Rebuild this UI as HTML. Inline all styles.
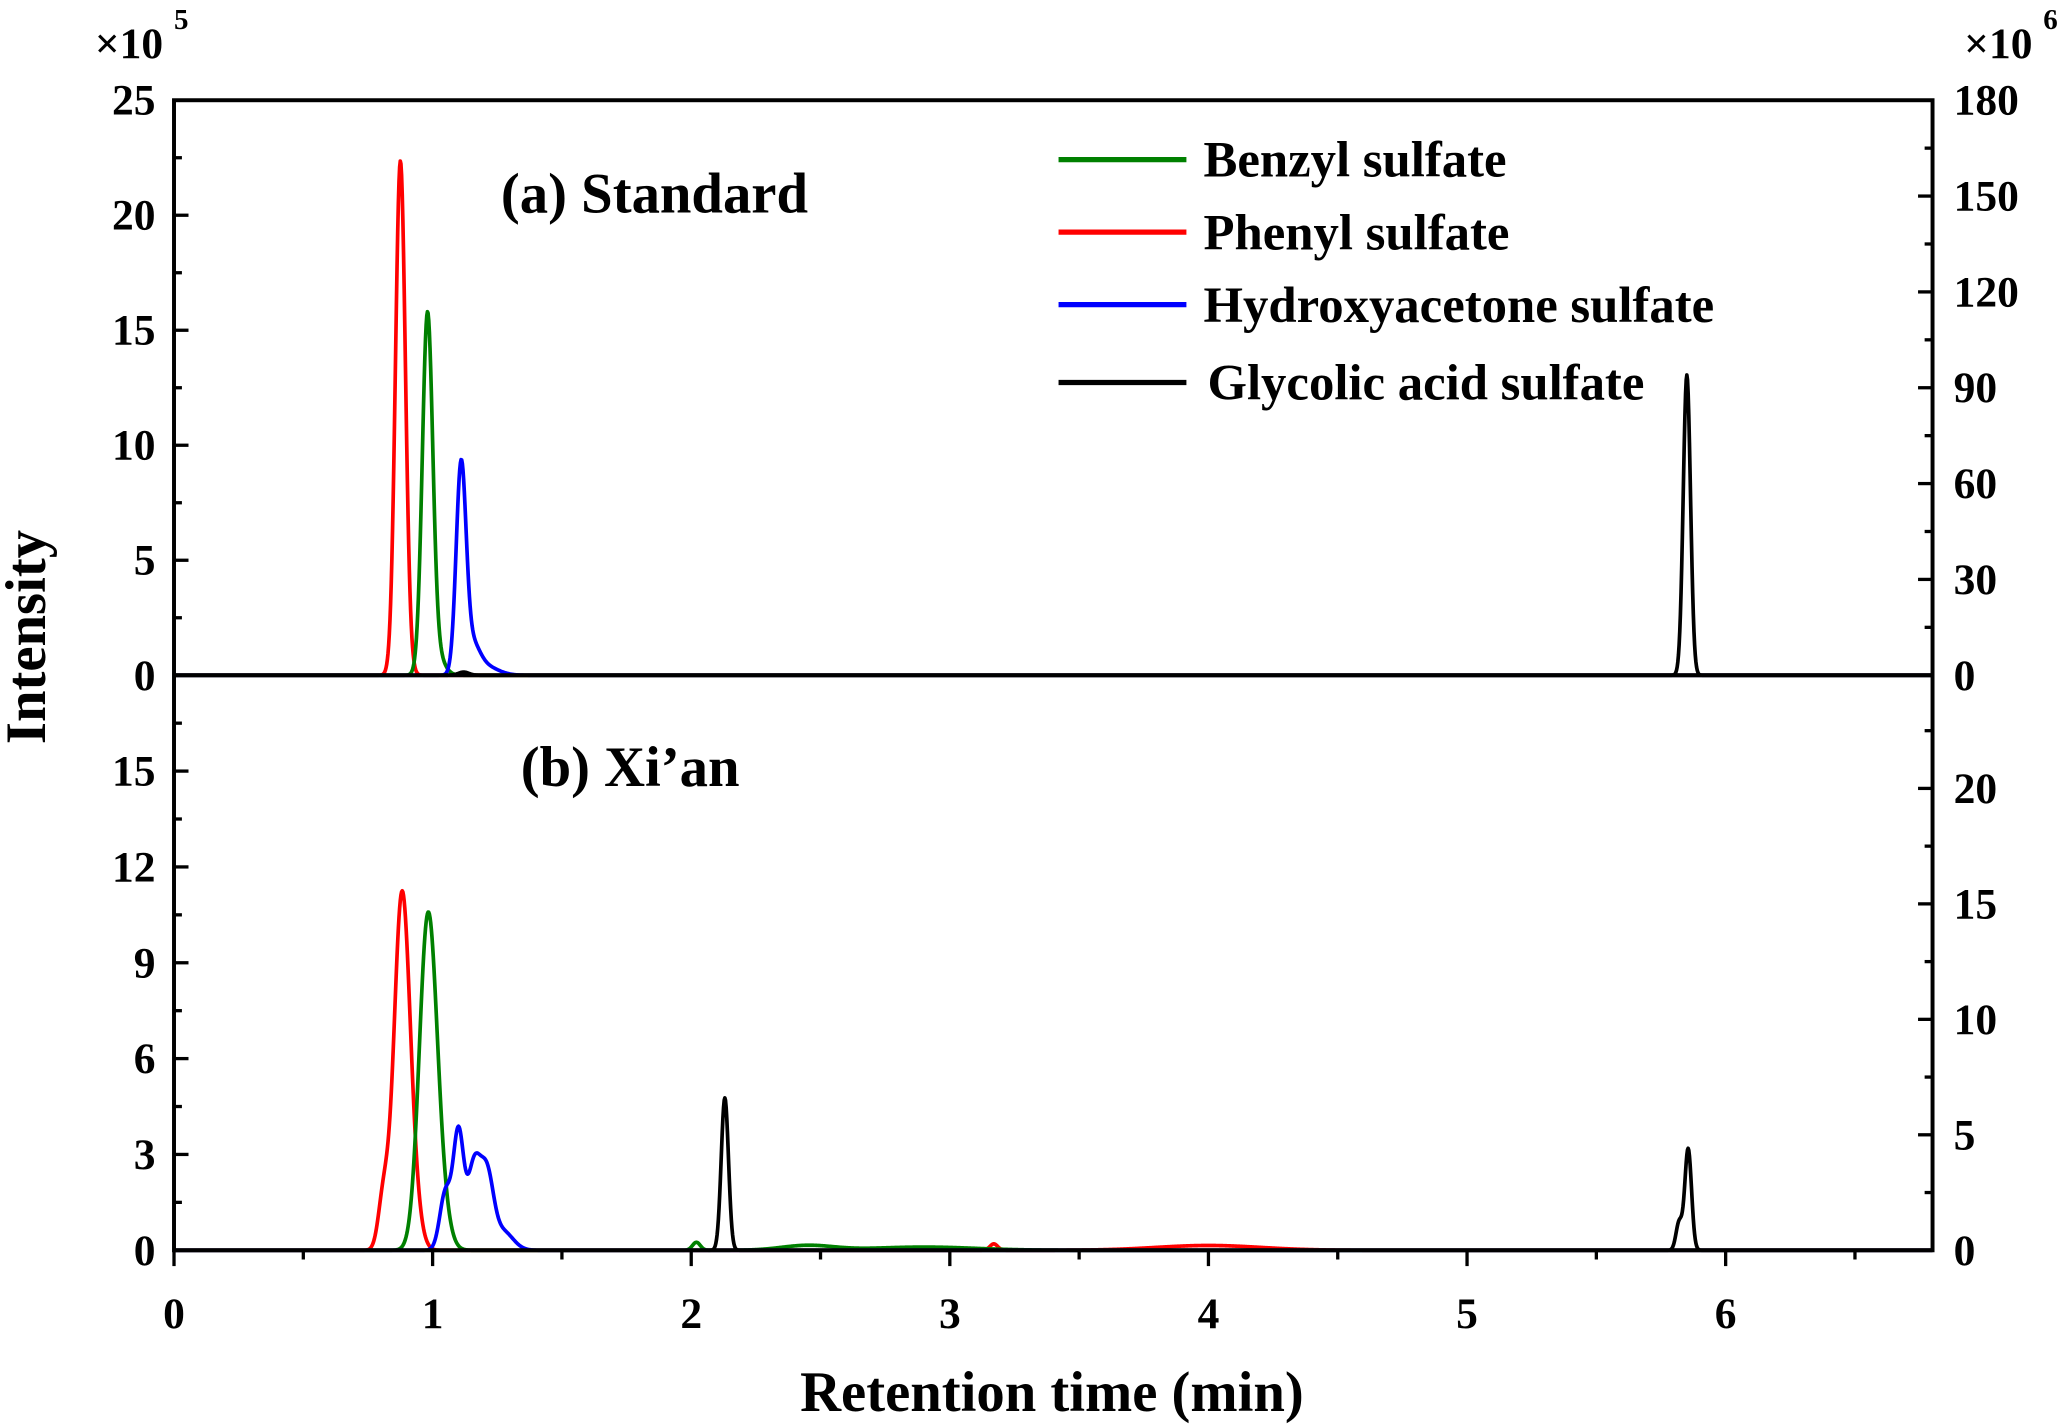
<!DOCTYPE html>
<html><head><meta charset="utf-8">
<style>html,body{margin:0;padding:0;background:#fff}svg{display:block}
text{font-family:"Liberation Serif",serif;font-weight:bold;fill:#000}</style></head>
<body>
<svg id="chart" width="2067" height="1427" viewBox="0 0 1568 1082" preserveAspectRatio="none" xmlns="http://www.w3.org/2000/svg">
<g id="g"></g>
</svg>
<script>
// ---- data (peaks: retention time, height, width sigma) ----
const xTicks = [0,1,2,3,4,5,6];
const topLeftTicks = [0,5,10,15,20,25];
const topRightTicks = [0,30,60,90,120,150,180];
const botLeftTicks = [0,3,6,9,12,15];
const botRightTicks = [0,5,10,15,20];
const legendNames = ["Benzyl sulfate","Phenyl sulfate","Hydroxyacetone sulfate","Glycolic acid sulfate"];
const legendColors = ["#008000","#ff0000","#0000ff","#000000"];
// top panel (a) Standard: left axis x1e5, black on right axis x1e6
const topBenzylRT=[0.98,1.01], topBenzylH=[15.2,1.0], topBenzylW=[0.02,0.03];
const topPhenylRT=[0.875,0.89], topPhenylH=[21.6,1.0], topPhenylW=[0.019,0.02];
const topHydroxyRT=[1.11,1.15,1.2], topHydroxyH=[8.8,1.2,0.4], topHydroxyW=[0.019,0.03,0.05];
const topGlycolicRT=[5.85,1.12], topGlycolicH=[94,1.0], topGlycolicW=[0.014,0.02];
// bottom panel (b) Xi'an
const botBenzylRT=[0.98,1.02,2.02,2.45,2.9], botBenzylH=[9.6,1.8,0.25,0.15,0.1], botBenzylW=[0.033,0.035,0.015,0.1,0.2];
const botPhenylRT=[0.81,0.88,0.92,3.17,4.0], botPhenylH=[1.6,10.6,1.5,0.2,0.15], botPhenylW=[0.02,0.03,0.03,0.015,0.2];
const botHydroxyRT=[1.05,1.1,1.16,1.21,1.27], botHydroxyH=[1.8,3.6,2.6,2.2,0.6], botHydroxyW=[0.022,0.02,0.025,0.025,0.04];
const botGlycolicRT=[2.13,5.82,5.855], botGlycolicH=[6.6,1.2,4.4], botGlycolicW=[0.014,0.012,0.013];

const NS="http://www.w3.org/2000/svg", g=document.getElementById('g');
const X0=132,X1=1466,Y0=76,YM=512,Y1=948;
const xs=v=>X0+(v/6.8)*(X1-X0);
const yTL=v=>YM-v*(YM-Y0)/25, yTR=v=>YM-v*(YM-Y0)/180;
const yBL=v=>Y1-v*(Y1-YM)/18, yBR=v=>Y1-v*(Y1-YM)/24.9;
function el(t,a,txt){const e=document.createElementNS(NS,t);for(const k in a)e.setAttribute(k,a[k]);if(txt!==undefined)e.textContent=txt;g.appendChild(e);return e;}
function curve(rt,h,w,ys,color,name){
 let d="";for(let i=0;i<=2720;i++){const t=i*6.8/2720;let v=0;for(let j=0;j<rt.length;j++)v+=h[j]*Math.exp(-0.5*((t-rt[j])/w[j])**2);
 d+=(i?"L":"M")+xs(t).toFixed(2)+","+ys(v).toFixed(2);}
 const p=el('path',{d:d,fill:'none',stroke:color,'stroke-width':2.8,'stroke-linejoin':'round'});
 
 
}
curve(topPhenylRT,topPhenylH,topPhenylW,yTL,"#ff0000","top-phenyl-line");
curve(topBenzylRT,topBenzylH,topBenzylW,yTL,"#008000","top-benzyl-line");
curve(topHydroxyRT,topHydroxyH,topHydroxyW,yTL,"#0000ff","top-hydroxyacetone-line");
curve(topGlycolicRT,topGlycolicH,topGlycolicW,yTR,"#000000","top-glycolic-line");
curve(botPhenylRT,botPhenylH,botPhenylW,yBL,"#ff0000","bottom-phenyl-line");
curve(botBenzylRT,botBenzylH,botBenzylW,yBL,"#008000","bottom-benzyl-line");
curve(botHydroxyRT,botHydroxyH,botHydroxyW,yBL,"#0000ff","bottom-hydroxyacetone-line");
curve(botGlycolicRT,botGlycolicH,botGlycolicW,yBR,"#000000","bottom-glycolic-line");
// frame
let f=el('rect',{x:X0,y:Y0,width:X1-X0,height:Y1-Y0,fill:'none',stroke:'#000','stroke-width':3});

el('line',{x1:X0,x2:X1,y1:YM,y2:YM,stroke:'#000','stroke-width':3});
// x ticks
for(let v=0;v<=6.5;v+=0.5){const x=xs(v),maj=Number.isInteger(v);el('line',{x1:x,x2:x,y1:Y1,y2:Y1+(maj?12:7),stroke:'#000','stroke-width':2.5});}
xTicks.forEach(v=>{const t=el('text',{x:xs(v),y:1007,'font-size':33,'text-anchor':'middle'},v);});
function yaxis(ticks,step,ys,side,top,bot){
 const x=side<0?X0:X1;
 for(let i=0;;i++){const v=i*step/2,y=ys(v);if(y<top-1)break;if(y<=bot+1){el('line',{x1:x,x2:x-side*(i%2?6:11),y1:y,y2:y,stroke:'#000','stroke-width':2.5});}}
 ticks.forEach(v=>{const t=el('text',{x:side<0?X0-14:X1+16,y:ys(v)+11,'font-size':33,'text-anchor':side<0?'end':'start'},v);});
}
yaxis(topLeftTicks,5,yTL,-1,Y0,YM);
yaxis(topRightTicks,30,yTR,1,Y0,YM);
yaxis(botLeftTicks,3,yBL,-1,YM,Y1);
yaxis(botRightTicks,5,yBR,1,YM,Y1);
// labels
let t;
t=el('text',{x:798,y:1070,'font-size':43,'text-anchor':'middle'},'Retention time (min)');
t=el('text',{x:0,y:0,'font-size':43,'text-anchor':'middle',transform:'translate(34,483) rotate(-90)'},'Intensity');
t=el('text',{x:72,y:44,'font-size':33},'×10');
el('text',{x:132,y:22,'font-size':22},'5');
t=el('text',{x:1490,y:44,'font-size':33},'×10');
el('text',{x:1550,y:22,'font-size':22},'6');
t=el('text',{x:380,y:161,'font-size':43},'(a) Standard');
t=el('text',{x:395,y:596,'font-size':43},'(b) Xi’an');
const ly=[121,176,231,290];
legendNames.forEach((n,i)=>{
 const l=el('line',{x1:803,x2:900,y1:ly[i],y2:ly[i],stroke:legendColors[i],'stroke-width':4});
 
 const tt=el('text',{x:i==3?916:913,y:ly[i]+13,'font-size':38.5},n);
 
});
</script>
</body></html>
